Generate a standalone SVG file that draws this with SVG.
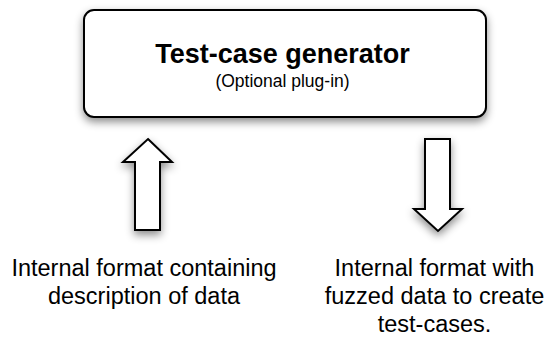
<svg xmlns="http://www.w3.org/2000/svg" width="548" height="338" viewBox="0 0 548 338">
  <style>
    .box { fill: #ffffff; stroke: #000000; stroke-width: 2; }
    .arrow { fill: #ffffff; stroke: #000000; stroke-width: 2; stroke-linejoin: miter; }
    .title { font-family: "Liberation Sans", Arial, sans-serif; font-weight: bold; font-size: 27px; fill: #000; text-anchor: middle; }
    .sub { font-family: "Liberation Sans", Arial, sans-serif; font-size: 17.5px; fill: #000; text-anchor: middle; }
    .label { font-family: "Liberation Sans", Arial, sans-serif; font-size: 23.5px; fill: #000; text-anchor: middle; }
  </style>
  <defs>
    <filter id="shadow" x="-30%" y="-30%" width="160%" height="160%">
      <feDropShadow dx="0" dy="4" stdDeviation="4" flood-color="#000" flood-opacity="0.45"/>
    </filter>
  </defs>
  <rect width="548" height="338" fill="#ffffff"/>
  <g id="generator">
    <rect class="box" x="84" y="10" width="402" height="107" rx="10" ry="10" filter="url(#shadow)"/>
    <text class="title" x="282.5" y="63">Test-case generator</text>
    <text class="sub" x="282.5" y="87">(Optional plug-in)</text>
  </g>
  <g id="connectors">
    <polygon id="arrow-up" class="arrow" filter="url(#shadow)" points="148,139 172,162 160,162 160,230 135,230 135,162 123,162"/>
    <polygon id="arrow-down" class="arrow" filter="url(#shadow)" points="425,139 450,139 450,209 462,209 438,231 414,209 425,209"/>
  </g>
  <g id="input-label">
    <text class="label" x="144" y="276">Internal format containing</text>
    <text class="label" x="144" y="304">description of data</text>
  </g>
  <g id="output-label">
    <text class="label" x="434.5" y="276">Internal format with</text>
    <text class="label" x="434.5" y="304">fuzzed data to create</text>
    <text class="label" x="434.5" y="332">test-cases.</text>
  </g>
</svg>
